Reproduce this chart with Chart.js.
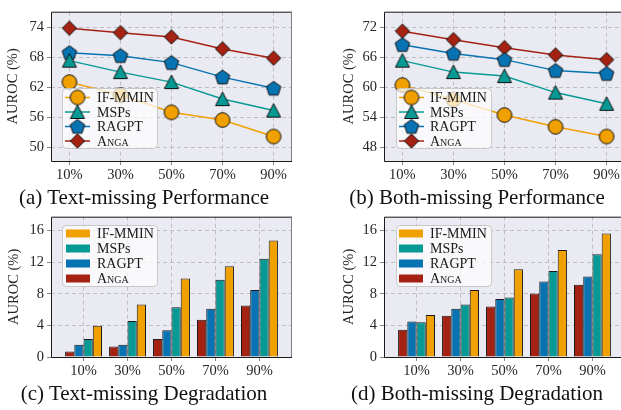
<!DOCTYPE html>
<html>
<head>
<meta charset="utf-8">
<script src="https://cdn.jsdelivr.net/npm/chart.js@4.4.0/dist/chart.umd.min.js"></script>
<style>
body{margin:0;width:621px;height:410px;overflow:hidden;background:#fff;position:relative;font-family:"Liberation Serif",serif;}
.panel{position:absolute;}
.panel canvas{display:block;}
.cap{position:absolute;width:310px;text-align:center;font-size:21px;line-height:24px;color:#111;white-space:nowrap;}
</style>
</head>
<body>
<div class="panel" style="left:0;top:0"><canvas id="cA" width="310" height="185"></canvas></div>
<div class="panel" style="left:310px;top:0"><canvas id="cB" width="330" height="185"></canvas></div>
<div class="panel" style="left:0;top:205px"><canvas id="cC" width="310" height="185"></canvas></div>
<div class="panel" style="left:310px;top:205px"><canvas id="cD" width="330" height="185"></canvas></div>
<div class="cap" style="left:-11px;top:185px">(a) Text-missing Performance</div>
<div class="cap" style="left:322px;top:185px">(b) Both-missing Performance</div>
<div class="cap" style="left:-11px;top:381px">(c) Text-missing Degradation</div>
<div class="cap" style="left:322px;top:381px">(d) Both-missing Degradation</div>
<script>
// data
const pcts = ['10%', '30%', '50%', '70%', '90%'];
const methods = ['IF-MMIN', 'MSPs', 'RAGPT', 'Anga'];

// (a) text-missing performance
const textPerfIF = [63.0, 60.4, 56.95, 55.4, 52.1];
const textPerfMSP = [67.3, 65.0, 63.0, 59.6, 57.3];
const textPerfRAG = [68.9, 68.3, 66.9, 64.0, 61.75];
const textPerfANGA = [73.8, 72.9, 72.05, 69.65, 67.8];
// (b) both-missing performance
const bothPerfIF = [60.4, 57.5, 54.4, 52.05, 50.1];
const bothPerfMSP = [65.3, 63.0, 62.2, 58.9, 56.65];
const bothPerfRAG = [68.5, 66.75, 65.5, 63.3, 62.7];
const bothPerfANGA = [71.2, 69.5, 67.9, 66.45, 65.5];
// (c) text-missing degradation
const textDegIF = [3.95, 6.65, 9.93, 11.47, 14.75];
const textDegMSP = [2.28, 4.57, 6.3, 9.76, 12.42];
const textDegRAG = [1.54, 1.54, 3.4, 6.1, 8.47];
const textDegANGA = [0.7, 1.33, 2.28, 4.7, 6.52];
// (d) both-missing degradation
const bothDegIF = [5.32, 8.47, 11.09, 13.54, 15.62];
const bothDegMSP = [4.4, 6.65, 7.52, 10.88, 13.0];
const bothDegRAG = [4.49, 6.1, 7.35, 9.55, 10.18];
const bothDegANGA = [3.45, 5.23, 6.4, 8.02, 9.14];

const ticksA = [50, 56, 62, 68, 74];
const ticksB = [48, 54, 60, 66, 72];
const ticksDeg = [0, 4, 8, 12, 16];

const colIF = '#F0A000', colMSP = '#079A94', colRAG = '#0773B2', colANGA = '#A52212';
const FONT = '"Liberation Serif", serif';

Chart.defaults.font.family = FONT;
Chart.defaults.color = '#262626';

// marker images (matplotlib style, black edge)
function marker(shape, color) {
    const c = document.createElement('canvas');
    c.width = 20; c.height = 20;
    const g = c.getContext('2d');
    g.translate(10, 10);
    g.beginPath();
    if (shape === 'o') {
        g.arc(0, 0, 7.3, 0, Math.PI * 2);
    } else if (shape === '^') {
        g.moveTo(0, -7); g.lineTo(7, 6.5); g.lineTo(-7, 6.5); g.closePath();
    } else if (shape === 'p') {
        for (let k = 0; k < 5; k++) {
            const a = -Math.PI / 2 + k * 2 * Math.PI / 5;
            const px = 7.6 * Math.cos(a), py = 7.6 * Math.sin(a) + 0.6;
            k ? g.lineTo(px, py) : g.moveTo(px, py);
        }
        g.closePath();
    } else {
        g.moveTo(0, -7.2); g.lineTo(7.2, 0); g.lineTo(0, 7.2); g.lineTo(-7.2, 0); g.closePath();
    }
    g.fillStyle = color;
    g.fill();
    g.lineWidth = 1;
    g.strokeStyle = '#111';
    g.stroke();
    return c;
}
const mkIF = marker('o', colIF), mkMSP = marker('^', colMSP), mkRAG = marker('p', colRAG), mkANGA = marker('D', colANGA);

const bgPlugin = {
    id: 'bg',
    beforeDraw(chart) {
        const a = chart.chartArea, ctx = chart.ctx;
        ctx.save();
        ctx.fillStyle = '#EAEAF2';
        ctx.fillRect(a.left, a.top, a.right - a.left, a.bottom - a.top);
        ctx.restore();
    },
    afterDatasetsDraw(chart) {
        const a = chart.chartArea, ctx = chart.ctx;
        ctx.save();
        ctx.lineWidth = 1;
        ctx.strokeStyle = '#1a1a1a';
        ctx.beginPath();
        ctx.moveTo(a.right, a.top + 0.5); ctx.lineTo(a.left + 0.5, a.top + 0.5);
        ctx.lineTo(a.left + 0.5, a.bottom + 0.5); ctx.lineTo(a.right, a.bottom + 0.5);
        ctx.stroke();
        ctx.strokeStyle = '#808080';
        ctx.beginPath();
        ctx.moveTo(a.right - 0.5, a.top); ctx.lineTo(a.right - 0.5, a.bottom);
        ctx.stroke();
        ctx.restore();
    }
};

// legend drawn like matplotlib: rounded translucent box, line+marker or patch
const boxLegend = {
    id: 'boxLegend',
    afterDraw(chart, args, o) {
        const ctx = chart.ctx;
        ctx.save();
        ctx.beginPath();
        ctx.roundRect(o.x + 0.5, o.y + 0.5, o.w, o.h, 4);
        ctx.fillStyle = 'rgba(255,255,255,0.72)';
        ctx.fill();
        ctx.strokeStyle = '#c8c8c8';
        ctx.lineWidth = 1;
        ctx.stroke();
        o.items.forEach((it, k) => {
            const y = o.rows[k];
            if (o.kind === 'line') {
                ctx.strokeStyle = it.color;
                ctx.lineWidth = 1.5;
                ctx.beginPath();
                ctx.moveTo(o.x1, y); ctx.lineTo(o.x2, y);
                ctx.stroke();
                ctx.drawImage(it.marker, (o.x1 + o.x2) / 2 - 10, y - 10);
            } else {
                ctx.fillStyle = it.color;
                ctx.fillRect(o.x1, y - 4, o.x2 - o.x1, 8);
            }
            ctx.fillStyle = '#1a1a1a';
            ctx.textBaseline = 'middle';
            ctx.font = (it.caps ? 'small-caps ' : '') + '14px ' + FONT;
            ctx.fillText(it.label, o.tx, y + 1);
        });
        ctx.restore();
    }
};

function axes(yTicks, yMin, yMax, xMin, xMax, g) {
    return {
        x: {
            type: 'linear', min: xMin, max: xMax, offset: false,
            afterBuildTicks: s => { s.ticks = pcts.map((p, i) => ({value: i})); },
            afterFit: s => { s.height = g.xH; },
            ticks: {autoSkip: false, maxRotation: 0, padding: 1, font: {size: 14.5},
                callback: v => pcts[v] !== undefined ? pcts[v] : ''},
            grid: {offset: false, color: '#b4b4b4', lineWidth: 0.8, tickLength: 4, tickColor: '#666', tickWidth: 0.8, tickBorderDash: []},
            border: {display: false, dash: [4, 3]}
        },
        y: {
            min: yMin, max: yMax,
            afterBuildTicks: s => { s.ticks = yTicks.map(v => ({value: v})); },
            afterFit: s => { s.width = g.yW; },
            ticks: {padding: 3, font: {size: 14.5}},
            title: {display: true, text: 'AUROC (%)', font: {size: 14.5}, padding: {top: g.tPad, bottom: 0}},
            grid: {color: '#b4b4b4', lineWidth: 0.8, tickLength: 4, tickColor: '#666', tickWidth: 0.8, tickBorderDash: []},
            border: {display: false, dash: [4, 3]}
        }
    };
}

function lineChart(id, seriesVals, yTicks, yMin, yMax, g) {
    const cols = [colIF, colMSP, colRAG, colANGA];
    const mks = [mkIF, mkMSP, mkRAG, mkANGA];
    const datasets = seriesVals.map((vals, k) => ({
        label: methods[k],
        data: vals.map((v, i) => ({x: i, y: v})),
        borderColor: cols[k],
        borderWidth: 1.5,
        pointStyle: mks[k],
        pointRadius: 7,
        clip: false
    }));
    new Chart(document.getElementById(id), {
        type: 'line',
        data: {datasets: datasets},
        options: {
            responsive: false, animation: false, devicePixelRatio: 1,
            layout: {padding: {top: g.pt, right: g.pr, left: 0, bottom: 0}},
            scales: axes(yTicks, yMin, yMax, -0.36, 4.36, g),
            plugins: {
                legend: {display: false}, tooltip: {enabled: false},
                boxLegend: Object.assign({kind: 'line', items: methods.map((m, k) => ({label: m, color: cols[k], marker: mks[k], caps: m === 'Anga'}))}, g.leg)
            }
        },
        plugins: [bgPlugin, boxLegend]
    });
}

function barChart(id, seriesVals, g) {
    const cols = [colIF, colMSP, colRAG, colANGA];
    // bars go Anga, RAGPT, MSPs, IF-MMIN from left to right
    const order = [3, 2, 1, 0];
    const datasets = order.map(k => ({
        label: methods[k],
        data: seriesVals[k].map((v, i) => ({x: i, y: v})),
        backgroundColor: cols[k],
        borderColor: '#1a1a1a',
        borderWidth: 1,
        categoryPercentage: 0.84,
        barPercentage: 1
    }));
    new Chart(document.getElementById(id), {
        type: 'bar',
        data: {datasets: datasets},
        options: {
            responsive: false, animation: false, devicePixelRatio: 1,
            layout: {padding: {top: g.pt, right: g.pr, left: 0, bottom: 0}},
            scales: axes(ticksDeg, 0, 17.75, -0.74, 4.74, g),
            plugins: {
                legend: {display: false}, tooltip: {enabled: false},
                boxLegend: Object.assign({kind: 'bar', items: methods.map((m, k) => ({label: m, color: cols[k], caps: m === 'Anga'}))}, g.leg)
            }
        },
        plugins: [bgPlugin, boxLegend]
    });
}

const lineRows = [97.5, 112, 126.5, 141];
const barRows = [28.5, 43.5, 58.5, 73.5];

lineChart('cA', [textPerfIF, textPerfMSP, textPerfRAG, textPerfANGA], ticksA, 47.2, 77.1,
    {yW: 51, xH: 24, pt: 3, pr: 18, tPad: 4,
     leg: {x: 62, y: 88, w: 95, h: 60, x1: 65, x2: 90, tx: 97, rows: lineRows}});
lineChart('cB', [bothPerfIF, bothPerfMSP, bothPerfRAG, bothPerfANGA], ticksB, 45.2, 75.1,
    {yW: 74, xH: 24, pt: 3, pr: 15, tPad: 30,
     leg: {x: 86, y: 88, w: 95, h: 60, x1: 89, x2: 114, tx: 120, rows: lineRows}});
barChart('cC', [textDegIF, textDegMSP, textDegRAG, textDegANGA],
    {yW: 51, xH: 33, pt: 9, pr: 18, tPad: 5,
     leg: {x: 62, y: 20, w: 95, h: 61, x1: 66, x2: 90, tx: 97, rows: barRows}});
barChart('cD', [bothDegIF, bothDegMSP, bothDegRAG, bothDegANGA],
    {yW: 74, xH: 33, pt: 9, pr: 15, tPad: 30,
     leg: {x: 86, y: 20, w: 95, h: 61, x1: 89, x2: 113, tx: 120, rows: barRows}});
</script>
</body>
</html>
